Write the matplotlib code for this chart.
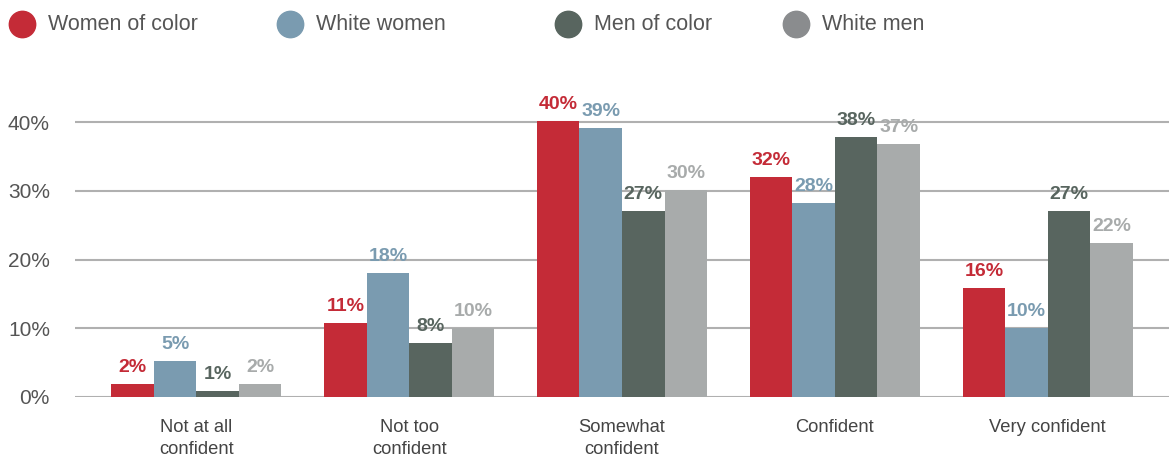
import numpy as np
import matplotlib
matplotlib.use("Agg")
import matplotlib.pyplot as plt
from matplotlib.lines import Line2D

plt.rcParams['font.family'] = ['Liberation Sans', 'DejaVu Sans']

# datos
categorias = ["Not at all\nconfident", "Not too\nconfident", "Somewhat\nconfident",
              "Confident", "Very confident"]
series = ["Women of color", "White women", "Men of color", "White men"]
mujeresColor = [1.85, 10.75, 40.1, 31.95, 15.8]
mujeresBlancas = [5.2, 18.0, 39.1, 28.2, 10.0]
hombresColor = [0.85, 7.8, 27.0, 37.8, 27.0]
hombresBlancos = [1.85, 10.0, 30.1, 36.8, 22.4]
etiquetas = [
    ["2%", "11%", "40%", "32%", "16%"],
    ["5%", "18%", "39%", "28%", "10%"],
    ["1%", "8%", "27%", "38%", "27%"],
    ["2%", "10%", "30%", "37%", "22%"],
]
yticks = [0, 10, 20, 30, 40]

colores = ["#c42b37", "#7a9bb0", "#58655f", "#a8abab"]
coloresTexto = ["#c42b37", "#7a9bb0", "#58655f", "#a8abab"]
coloresLeyenda = ["#c42b37", "#7a9bb0", "#58655f", "#8a8c8e"]

valores = [mujeresColor, mujeresBlancas, hombresColor, hombresBlancos]

fig = plt.figure(figsize=(11.69, 4.57), dpi=100)
ax = fig.add_axes([75 / 1169, 60 / 457, 1094 / 1169, 297 / 457])

x = np.arange(len(categorias))
ancho = 0.2
for i, (vals, col) in enumerate(zip(valores, colores)):
    pos = x + (i - 1.5) * ancho
    ax.bar(pos, vals, width=ancho, color=col, zorder=3)
    for p, v, t in zip(pos, vals, etiquetas[i]):
        ax.annotate(t, (p, v), xytext=(0, 6), textcoords="offset points",
                    ha="center", va="bottom", fontsize=14, fontweight="bold",
                    color=coloresTexto[i], zorder=4)

ax.set_xlim(-0.57, 4.57)
ax.set_ylim(0, 43.2)
ax.set_yticks(yticks)
ax.set_yticklabels([f"{t}%" for t in yticks])
ax.set_xticks(x)
ax.set_xticklabels(categorias, linespacing=1.4)
ax.tick_params(axis="both", length=0, colors="#555555")
ax.tick_params(axis="y", pad=18, labelsize=15)
ax.tick_params(axis="x", pad=16, labelsize=13.2)
for lab in ax.get_xticklabels():
    lab.set_color("#444444")
ax.yaxis.grid(True, color="#b0b0b0", linewidth=1.5, zorder=0)
for s in ax.spines.values():
    s.set_visible(False)

# leyenda manual
legX = [22, 290, 568, 796]
for xx, nombre, col in zip(legX, series, coloresLeyenda):
    fig.add_artist(Line2D([xx / 1169], [1 - 24 / 457], marker="o", markersize=19,
                          color=col, linestyle="none", transform=fig.transFigure))
    fig.text((xx + 26) / 1169, 1 - 24 / 457, nombre, fontsize=15.5, color="#555555",
             ha="left", va="center")

plt.savefig("out.png", dpi=100)
